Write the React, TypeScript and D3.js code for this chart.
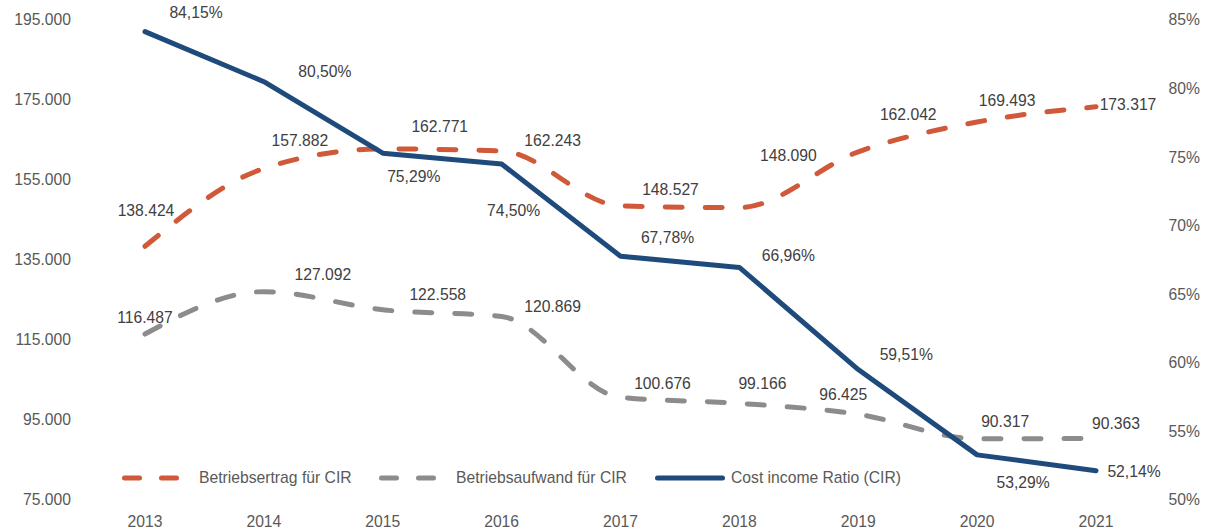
import React from "react";
import * as d3 from "d3";

const years = ["2013", "2014", "2015", "2016", "2017", "2018", "2019", "2020", "2021"];
const ertrag = [138424, 157882, 162771, 162243, 148527, 148090, 162042, 169493, 173317];
const aufwand = [116487, 127092, 122558, 120869, 100676, 99166, 96425, 90317, 90363];
const cir = [84.15, 80.5, 75.29, 74.5, 67.78, 66.96, 59.51, 53.29, 52.14];
const leftTicks = [75000, 95000, 115000, 135000, 155000, 175000, 195000];
const rightTicks = [50, 55, 60, 65, 70, 75, 80, 85];
const seriesNames = ["Betriebsertrag für CIR", "Betriebsaufwand für CIR", "Cost income Ratio (CIR)"];

// label offsets relative to their point (layout only)
const ertragOff = [[1, -36], [36, -28], [57, -22], [51, -11], [50, -16], [49, -52], [50, -37], [30, -22], [32, -2]];
const aufwandOff = [[0, -17], [59, -17], [55, -15], [51, -10], [42, -14], [23, -20], [-15, -20], [28, -17], [20, -15]];
const cirOff = [[51, -19], [61, -10], [31, 23], [12, 47], [47, -19], [49, -12], [48, -15], [46, 28], [38, 1]];

const W = 1211, H = 532;
const ORANGE = "#D0593A", GRAY = "#8C8C8C", BLUE = "#1F4B7C";
const TEXT = "#404040", AXIS = "#595959";
const FONT = "'Liberation Sans', Arial, sans-serif";
const FS = 15.7;

const fmtNum = (v: number) => d3.format(",")(v).replace(/,/g, ".");
const fmtPct = (v: number) => v.toFixed(2).replace(".", ",") + "%";

export default function App() {
  const x = d3.scalePoint<string>().domain(years).range([145, 1096]);
  const yL = d3.scaleLinear().domain([75000, 195000]).range([500, 20]);
  const yR = d3.scaleLinear().domain([50, 85]).range([500, 20]);

  const smooth = d3.line<number>().x((_, i) => x(years[i])!).y((d) => yL(d)).curve(d3.curveMonotoneX);
  const straight = d3.line<number>().x((_, i) => x(years[i])!).y((d) => yR(d));

  return (
    <svg width={W} height={H} style={{ position: "absolute", left: 0, top: 0, fontFamily: FONT }}>
      <rect width={W} height={H} fill="#fff" />
      {leftTicks.map((t) => (
        <text key={t} x={71} y={yL(t)} dy="0.35em" textAnchor="end" fontSize={FS} fill={AXIS}>{fmtNum(t)}</text>
      ))}
      {rightTicks.map((t) => (
        <text key={t} x={1168.5} y={yR(t)} dy="0.35em" textAnchor="start" fontSize={FS} fill={AXIS}>{t}%</text>
      ))}
      {years.map((yr) => (
        <text key={yr} x={x(yr)} y={522} dy="0.35em" textAnchor="middle" fontSize={FS} fill={AXIS}>{yr}</text>
      ))}
      <path d={smooth(ertrag)!} fill="none" stroke={ORANGE} strokeWidth={5} strokeDasharray="17 23" strokeLinecap="round" />
      <path d={smooth(aufwand)!} fill="none" stroke={GRAY} strokeWidth={5} strokeDasharray="17 23" strokeLinecap="round" />
      <path d={straight(cir)!} fill="none" stroke={BLUE} strokeWidth={5} strokeLinecap="round" strokeLinejoin="round" />
      {ertrag.map((v, i) => (
        <text key={"e" + i} x={x(years[i])! + ertragOff[i][0]} y={yL(v) + ertragOff[i][1]} dy="0.35em" textAnchor="middle" fontSize={FS} fill={TEXT}>{fmtNum(v)}</text>
      ))}
      {aufwand.map((v, i) => (
        <text key={"a" + i} x={x(years[i])! + aufwandOff[i][0]} y={yL(v) + aufwandOff[i][1]} dy="0.35em" textAnchor="middle" fontSize={FS} fill={TEXT}>{fmtNum(v)}</text>
      ))}
      {cir.map((v, i) => (
        <text key={"c" + i} x={x(years[i])! + cirOff[i][0]} y={yR(v) + cirOff[i][1]} dy="0.35em" textAnchor="middle" fontSize={FS} fill={TEXT}>{fmtPct(v)}</text>
      ))}
      {/* legend */}
      <line x1={124.5} x2={176.5} y1={478} y2={478} stroke={ORANGE} strokeWidth={5} strokeDasharray="15 22" strokeLinecap="round" />
      <text x={199} y={478} dy="0.35em" fontSize={FS} fill={AXIS}>{seriesNames[0]}</text>
      <line x1={381.5} x2={433.5} y1={478} y2={478} stroke={GRAY} strokeWidth={5} strokeDasharray="15 22" strokeLinecap="round" />
      <text x={456} y={478} dy="0.35em" fontSize={FS} fill={AXIS}>{seriesNames[1]}</text>
      <line x1={657.5} x2={722.5} y1={478} y2={478} stroke={BLUE} strokeWidth={5} strokeLinecap="round" />
      <text x={731} y={478} dy="0.35em" fontSize={FS} fill={AXIS}>{seriesNames[2]}</text>
    </svg>
  );
}
